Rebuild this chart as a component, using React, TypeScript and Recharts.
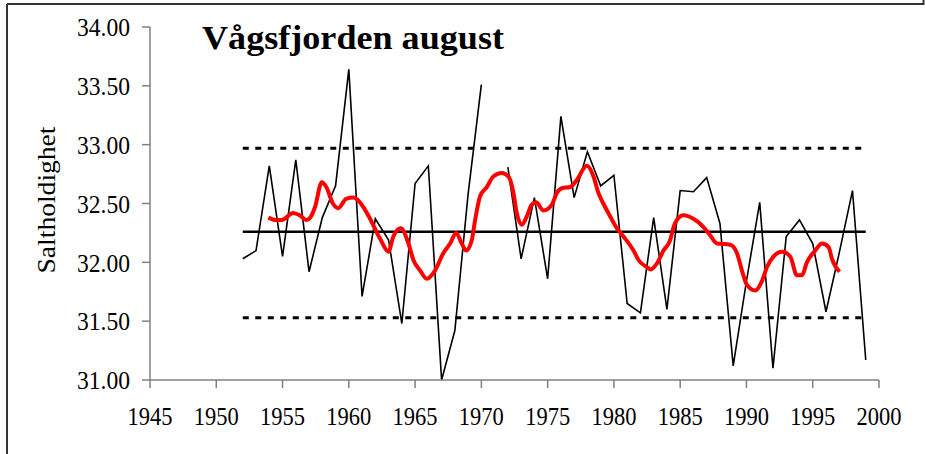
import React from 'react';
import { LineChart, Line, XAxis, YAxis } from 'recharts';

const years = [1952, 1953, 1954, 1955, 1956, 1957, 1958, 1959, 1960, 1961, 1962, 1963, 1964, 1965, 1966, 1967, 1968, 1969, 1970, 1971, 1972, 1973, 1974, 1975, 1976, 1977, 1978, 1979, 1980, 1981, 1982, 1983, 1984, 1985, 1986, 1987, 1988, 1989, 1990, 1991, 1992, 1993, 1994, 1995, 1996, 1997, 1998, 1999];
const salinity: (number | null)[] = [32.03, 32.10, 32.82, 32.05, 32.87, 31.92, 32.38, 32.65, 33.64, 31.71, 32.37, 32.19, 31.48, 32.67, 32.82, 31.00, 31.42, 32.58, 33.51, null, 32.81, 32.03, 32.55, 31.86, 33.24, 32.55, 32.94, 32.65, 32.74, 31.65, 31.57, 32.38, 31.60, 32.61, 32.60, 32.72, 32.33, 31.12, 31.84, 32.51, 31.10, 32.22, 32.36, 32.16, 31.58, 32.08, 32.61, 31.17];

const smoothYears = [1953.93, 1954.5, 1954.94, 1955.8, 1956.3, 1956.8, 1957.2, 1957.45, 1957.96, 1958.3, 1958.8, 1959.2, 1959.8, 1960.35, 1961.1, 1961.6, 1962.36, 1962.99, 1963.36, 1963.92, 1964.5, 1964.87, 1965.38, 1965.88, 1966.5, 1967.14, 1967.64, 1968.1, 1968.52, 1968.85, 1969.28, 1969.53, 1969.9, 1970.41, 1970.9, 1971.54, 1972.04, 1972.42, 1972.67, 1973.05, 1973.43, 1973.8, 1974.13, 1974.69, 1975.32, 1975.69, 1976.07, 1976.7, 1977.2, 1977.96, 1978.46, 1978.83, 1979.2, 1979.72, 1980.22, 1980.72, 1981.48, 1981.85, 1982.48, 1982.78, 1983.24, 1983.74, 1984.25, 1984.5, 1984.75, 1985.25, 1986.0, 1986.76, 1987.26, 1987.77, 1988.77, 1989.28, 1989.66, 1990.03, 1990.66, 1991.17, 1991.55, 1992.05, 1992.68, 1993.3, 1993.81, 1994.19, 1994.56, 1995.19, 1995.7, 1996.2, 1996.45, 1997.02];
const smoothValues = [32.38, 32.36, 32.36, 32.42, 32.40, 32.36, 32.40, 32.47, 32.68, 32.64, 32.50, 32.46, 32.54, 32.55, 32.47, 32.37, 32.20, 32.09, 32.22, 32.29, 32.16, 32.02, 31.93, 31.86, 31.93, 32.08, 32.16, 32.25, 32.16, 32.10, 32.19, 32.36, 32.56, 32.64, 32.73, 32.76, 32.73, 32.59, 32.42, 32.32, 32.39, 32.49, 32.51, 32.44, 32.49, 32.59, 32.63, 32.64, 32.70, 32.82, 32.73, 32.59, 32.50, 32.39, 32.29, 32.22, 32.10, 32.02, 31.96, 31.94, 31.99, 32.10, 32.19, 32.30, 32.36, 32.40, 32.37, 32.30, 32.23, 32.16, 32.15, 32.08, 31.93, 31.81, 31.76, 31.84, 31.96, 32.05, 32.09, 32.05, 31.89, 31.89, 32.00, 32.10, 32.16, 32.13, 32.03, 31.92];

const refYears = [1952, 1999];
const meanValue = 32.26;
const upperLimit = 32.97;
const lowerLimit = 31.53;

const xTicks = [1945, 1950, 1955, 1960, 1965, 1970, 1975, 1980, 1985, 1990, 1995, 2000];
const yTicks = [31, 31.5, 32, 32.5, 33, 33.5, 34];

const titleText = 'Vågsfjorden august';
const yLabelText = 'Saltholdighet';

const annualData = years.map((y, i) => ({ year: y, value: salinity[i] }));
const smoothData = smoothYears.map((y, i) => ({ year: y, value: smoothValues[i] }));
const meanData = refYears.map((y) => ({ year: y, value: meanValue }));
const upperData = refYears.map((y) => ({ year: y, value: upperLimit }));
const lowerData = refYears.map((y) => ({ year: y, value: lowerLimit }));

const FONT = '"Liberation Serif", "Times New Roman", serif';
const AXIS_GRAY = '#808080';

const XTick = (props: any) => (
  <text x={props.x} y={props.y} dy="0.71em" textAnchor="middle" fontFamily={FONT} fontSize={26} textLength={45} lengthAdjust="spacingAndGlyphs" fill="#000">
    {props.payload.value}
  </text>
);

const YTick = (props: any) => (
  <text x={props.x} y={props.y} dy="0.355em" textAnchor="end" fontFamily={FONT} fontSize={26} textLength={53} lengthAdjust="spacingAndGlyphs" fill="#000">
    {Number(props.payload.value).toFixed(2)}
  </text>
);

export default function App() {
  return (
    <div style={{ position: 'absolute', left: 0, top: 0, width: 925, height: 454, background: '#fff', overflow: 'hidden' }}>
      <LineChart width={925} height={454} margin={{ top: 27, right: 46, bottom: 0, left: 0 }}>
        <XAxis
          dataKey="year"
          type="number"
          domain={[1945, 2000]}
          ticks={xTicks}
          allowDuplicatedCategory={false}
          height={74}
          tickSize={8}
          tickMargin={19}
          axisLine={{ stroke: AXIS_GRAY, strokeWidth: 1.5 }}
          tickLine={{ stroke: AXIS_GRAY, strokeWidth: 1.5 }}
          tick={<XTick />}
          interval={0}
        />
        <YAxis
          dataKey="value"
          type="number"
          domain={[31, 34]}
          ticks={yTicks}
          width={150}
          tickSize={8}
          tickMargin={12}
          axisLine={{ stroke: AXIS_GRAY, strokeWidth: 1.5 }}
          tickLine={{ stroke: AXIS_GRAY, strokeWidth: 1.5 }}
          tick={<YTick />}
          interval={0}
        />
        <Line data={upperData} dataKey="value" stroke="#000" strokeWidth={3} strokeDasharray="6 6.5" dot={false} activeDot={false} isAnimationActive={false} />
        <Line data={lowerData} dataKey="value" stroke="#000" strokeWidth={3} strokeDasharray="6 6.5" dot={false} activeDot={false} isAnimationActive={false} />
        <Line data={meanData} dataKey="value" stroke="#000" strokeWidth={2.5} dot={false} activeDot={false} isAnimationActive={false} />
        <Line data={annualData} dataKey="value" stroke="#000" strokeWidth={1.6} dot={false} activeDot={false} connectNulls={false} isAnimationActive={false} />
        <Line data={smoothData} dataKey="value" type="monotone" stroke="#ff0000" strokeWidth={4} dot={false} activeDot={false} isAnimationActive={false} />
      </LineChart>
      <svg width={925} height={454} style={{ position: 'absolute', left: 0, top: 0, pointerEvents: 'none' }}>
        <line x1={7} y1={4} x2={924} y2={4} stroke="#333" strokeWidth={2} />
        <line x1={7} y1={4} x2={7} y2={454} stroke="#333" strokeWidth={2} />
        <line x1={923.5} y1={0} x2={923.5} y2={5} stroke="#333" strokeWidth={2} />
        <text x={202} y={49} fontFamily={FONT} fontWeight="bold" fontSize={34} textLength={302} lengthAdjust="spacingAndGlyphs" fill="#000">
          {titleText}
        </text>
        <text
          x={0}
          y={0}
          transform="translate(55, 200) rotate(-90)"
          textAnchor="middle"
          fontFamily={FONT}
          fontSize={25}
          textLength={147}
          lengthAdjust="spacingAndGlyphs"
          fill="#000"
        >
          {yLabelText}
        </text>
      </svg>
    </div>
  );
}
